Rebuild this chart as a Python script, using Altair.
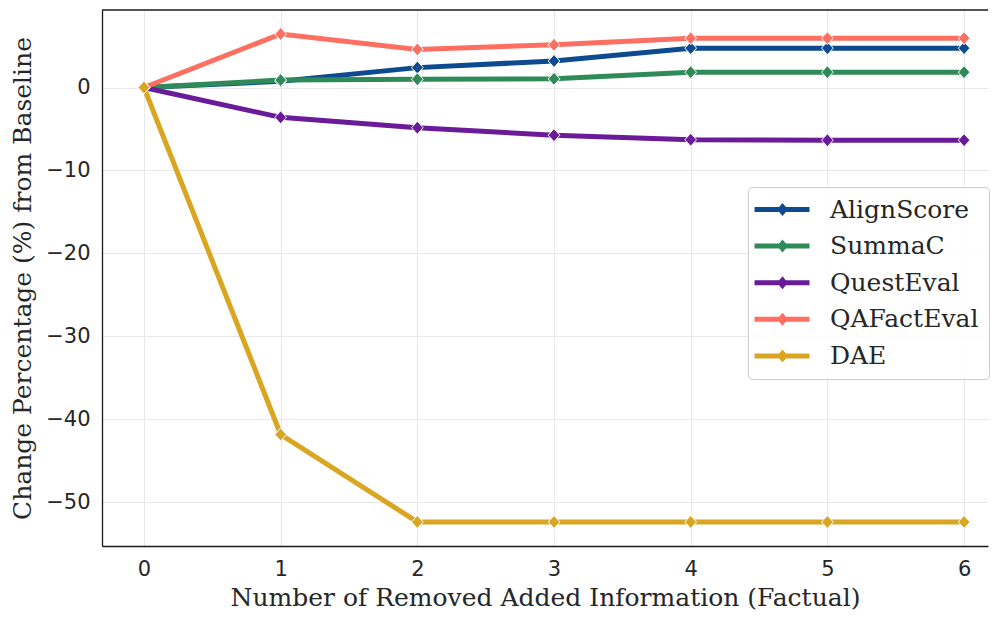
import altair as alt
import pandas as pd

steps = [0, 1, 2, 3, 4, 5, 6]
series_names = ["AlignScore", "SummaC", "QuestEval", "QAFactEval", "DAE"]
series_colors = ["#0d4a8f", "#2e8b57", "#6a1b9a", "#ff6f61", "#daa520"]
align_score = [0.0, 0.75, 2.4, 3.2, 4.75, 4.75, 4.75]
summac = [0.0, 0.9, 1.0, 1.05, 1.85, 1.85, 1.85]
quest_eval = [0.0, -3.6, -4.85, -5.75, -6.3, -6.35, -6.35]
qafact_eval = [0.0, 6.45, 4.6, 5.15, 5.95, 5.95, 5.95]
dae = [0.0, -41.85, -52.4, -52.4, -52.4, -52.4, -52.4]
y_ticks = [-50, -40, -30, -20, -10, 0]

values = [align_score, summac, quest_eval, qafact_eval, dae]
rows = []
for i, (name, vals) in enumerate(zip(series_names, values)):
    for s, v in zip(steps, vals):
        rows.append({"step": s, "value": v, "metric": name, "order": i})
df = pd.DataFrame(rows)

PLOT_W, PLOT_H = 886, 536

diamond = "M0,-1L0.9,0L0,1L-0.9,0Z"
legend_symbol = ("M-2.66,-0.42L1.44,-0.42L2.0,-1.08L2.56,-0.42L6.5,-0.42"
                 "L6.5,0.42L2.56,0.42L2.0,1.08L1.44,0.42L-2.66,0.42Z")

x = alt.X("step:Q",
          scale=alt.Scale(domain=[-0.307, 6.175], nice=False, zero=False),
          axis=alt.Axis(values=steps, format="d",
                        title="Number of Removed Added Information (Factual)"))
y = alt.Y("value:Q",
          scale=alt.Scale(domain=[-55.3, 9.35], nice=False, zero=False),
          axis=alt.Axis(values=y_ticks, format="d",
                        title="Change Percentage (%) from Baseline"))
color_scale = alt.Scale(domain=series_names, range=series_colors)

top_spine = alt.Chart(pd.DataFrame({"k": [0]})).mark_rule(
    color="#1a1a1a", strokeWidth=1.3
).encode(x=alt.value(0), x2=alt.value(PLOT_W), y=alt.value(0))

lines = alt.Chart(df).mark_line(strokeWidth=5).encode(
    x=x, y=y,
    color=alt.Color("metric:N", scale=color_scale, legend=None),
    order="step:Q",
    detail="metric:N",
)
points = alt.Chart(df).mark_point(
    shape=diamond, filled=True, size=169, stroke="white",
    strokeWidth=1, opacity=1
).encode(
    x=x, y=y,
    color=alt.Color(
        "metric:N", scale=color_scale, sort=series_names,
        legend=alt.Legend(
            title=None, orient="none", legendX=646, legendY=177,
            symbolType=legend_symbol, symbolSize=144, symbolStrokeWidth=0,
            symbolOpacity=1,
            labelFont="DejaVu Serif", labelFontSize=25, labelColor="#262626",
            labelOffset=47, rowPadding=10.6, padding=10,
            fillColor="rgba(255,255,255,0.85)", strokeColor="#cccccc",
            cornerRadius=4, labelLimit=300,
        ),
    ),
)

chart = alt.layer(lines, points, top_spine).resolve_legend(
    color="independent"
).properties(
    width=PLOT_W, height=PLOT_H,
    padding={"left": 2, "top": 1, "right": 0, "bottom": 0},
).configure_view(
    strokeWidth=0
).configure_axis(
    grid=True, gridColor="#e8e8e8", gridWidth=1,
    domain=True, domainColor="#1a1a1a", domainWidth=1.3,
    ticks=False,
    labelFont="DejaVu Sans", labelFontSize=21, labelColor="#262626",
    labelPadding=12,
    titleFont="DejaVu Serif", titleFontSize=25, titleColor="#262626",
    titleFontWeight="normal",
).configure_axisY(
    titlePadding=10,
).configure_axisX(
    titlePadding=6,
)

chart.save("out.html", embed_options={"renderer": "svg", "actions": False})
